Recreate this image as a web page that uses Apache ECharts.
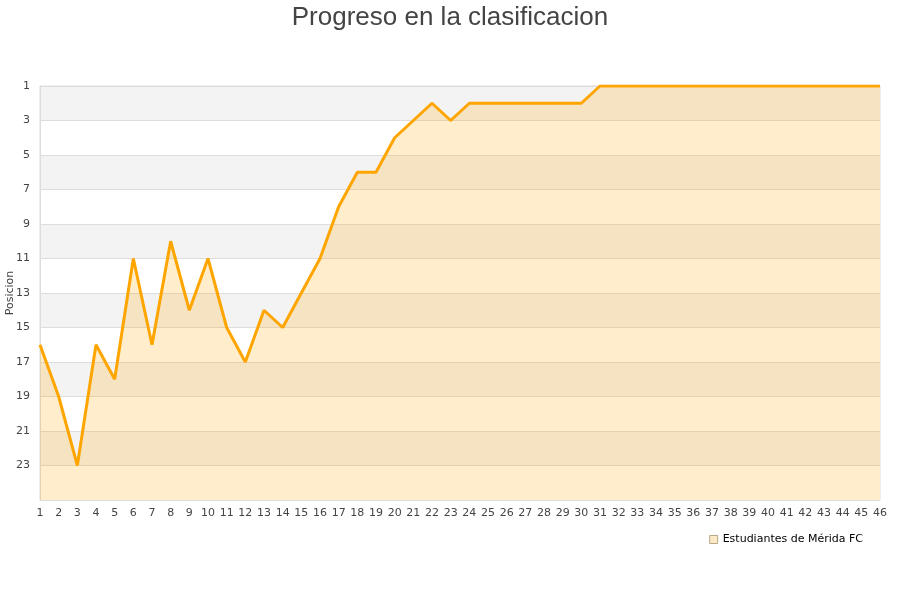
<!DOCTYPE html>
<html><head><meta charset="utf-8">
<script src="https://cdn.jsdelivr.net/npm/echarts@6/dist/echarts.min.js"></script>
<style>html,body{margin:0;padding:0;background:#fff}#c{width:900px;height:600px}</style>
</head><body><div id="c"></div>
<script>
const jornadas = Array.from({length:46},(_,i)=>String(i+1));
const posiciones = [16,19,23,16,18,11,16,10,14,11,15,17,14,15,13,11,8,6,6,4,3,2,3,2,2,2,2,2,2,2,1,1,1,1,1,1,1,1,1,1,1,1,1,1,1,1];
const yTicksMin = 1, yTicksMax = 25, yInterval = 2;
const chart = echarts.init(document.getElementById('c'));
chart.setOption({
  animation:false,
  title:{text:'Progreso en la clasificacion',left:'center',top:0,textStyle:{fontFamily:'Liberation Sans',fontSize:26,fontWeight:'normal',color:'#444'}},
  grid:{left:40,right:20,top:86,bottom:100,containLabel:false,outerBoundsMode:'none',show:true,borderColor:'#ddd',borderWidth:1,backgroundColor:'transparent'},
  legend:{right:32,top:529,icon:'rect',itemWidth:8,itemHeight:8,textStyle:{fontFamily:'DejaVu Sans',fontSize:11,color:'#000'},
    data:[{name:'Estudiantes de Mérida FC',itemStyle:{color:'#fde9c6',borderColor:'#b9a98a',borderWidth:1}}]},
  xAxis:{type:'category',data:jornadas,boundaryGap:false,
    axisLine:{lineStyle:{color:'#ddd'}},axisTick:{show:false},
    axisLabel:{interval:0,fontFamily:'DejaVu Sans',fontSize:11,color:'#444',margin:8},
    splitLine:{show:false}},
  yAxis:{type:'value',inverse:true,min:yTicksMin,max:yTicksMax,interval:yInterval,
    name:'Posicion',nameLocation:'middle',nameGap:24,nameMoveOverlap:false,nameTextStyle:{fontFamily:'DejaVu Sans',fontSize:11,color:'#444'},
    axisLine:{show:true,lineStyle:{color:'#ddd'}},axisTick:{show:false},
    axisLabel:{showMaxLabel:false,fontFamily:'DejaVu Sans',fontSize:11,color:'#444',margin:10},
    splitLine:{show:true,lineStyle:{color:'#ddd'}},
    splitArea:{show:true,areaStyle:{color:['#f3f3f3','#ffffff']}}},
  series:[{name:'Estudiantes de Mérida FC',type:'line',data:posiciones,symbol:'none',
    lineStyle:{color:'#ffa500',width:3},itemStyle:{color:'#ffa500'},
    areaStyle:{color:'#ffa500',opacity:0.2,origin:'end'},clip:true}]
});
</script></body></html>
